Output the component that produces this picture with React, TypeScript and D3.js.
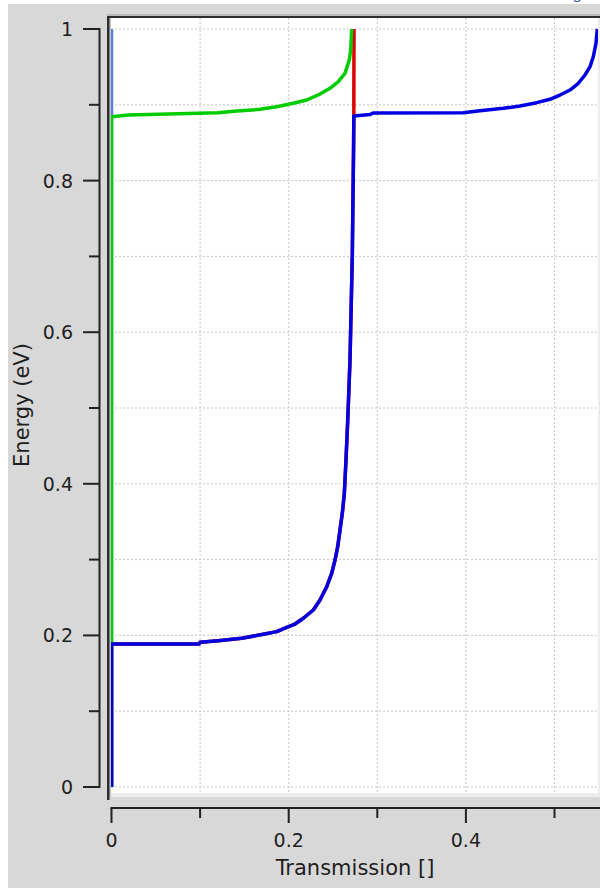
import React from "react";
import * as d3 from "d3";

// Axis ticks and labels
const energyTicks = [0, 0.2, 0.4, 0.6, 0.8, 1];
const energyTickLabels = ["0", "0.2", "0.4", "0.6", "0.8", "1"];
const energyMinorTicks = [0.1, 0.3, 0.5, 0.7, 0.9];
const transTicks = [0, 0.2, 0.4];
const transTickLabels = ["0", "0.2", "0.4"];
const transMinorTicks = [0.1, 0.3, 0.5];
const gridTrans = [0.1, 0.2, 0.3, 0.4, 0.5];
const gridEnergy = [0, 0.1, 0.2, 0.3, 0.4, 0.5, 0.6, 0.7, 0.8, 0.9, 1];

// Transmission curves as [transmission, energy (eV)] pairs
const mode3: [number, number][] = [
  [0, 0],
  [0, 1],
];

const mode1: [number, number][] = [
  [0, 0], [0, 0.1887], [0.099, 0.1887], [0.1, 0.191], [0.1205, 0.193],
  [0.147, 0.1962], [0.1713, 0.2015], [0.1865, 0.205], [0.1977, 0.2107],
  [0.2071, 0.215], [0.2165, 0.2226], [0.2278, 0.2335], [0.2353, 0.2467],
  [0.2429, 0.2642], [0.2485, 0.2819], [0.2523, 0.2995], [0.2553, 0.317],
  [0.2579, 0.339], [0.2605, 0.361], [0.2628, 0.3875], [0.2645, 0.4274],
  [0.2665, 0.4802], [0.2692, 0.5633], [0.2718, 0.7018], [0.2732, 0.8404],
  [0.2735, 0.8852], [0.2737, 1.0],
];

const mode2: [number, number][] = [
  [0, 0], [0, 0.8843], [0.019, 0.8865], [0.1205, 0.8896], [0.1413, 0.8918],
  [0.1676, 0.894], [0.1865, 0.8975], [0.2052, 0.902], [0.2203, 0.9063],
  [0.2353, 0.9142], [0.2466, 0.9218], [0.256, 0.9305], [0.2635, 0.9415],
  [0.2684, 0.9591], [0.27, 0.9723], [0.2711, 1.0],
];

const total: [number, number][] = [
  [0, 0], [0, 0.1887], [0.099, 0.1887], [0.1, 0.191], [0.1205, 0.193],
  [0.147, 0.1962], [0.1713, 0.2015], [0.1865, 0.205], [0.1977, 0.2107],
  [0.2071, 0.215], [0.2165, 0.2226], [0.2278, 0.2335], [0.2353, 0.2467],
  [0.2429, 0.2642], [0.2485, 0.2819], [0.2523, 0.2995], [0.2553, 0.317],
  [0.2579, 0.339], [0.2605, 0.361], [0.2628, 0.3875], [0.2645, 0.4274],
  [0.2665, 0.4802], [0.2692, 0.5633], [0.2718, 0.7018], [0.2732, 0.8404],
  [0.2735, 0.8852], [0.292, 0.8872], [0.2951, 0.8893], [0.397, 0.8896],
  [0.4159, 0.8922], [0.4422, 0.8954], [0.4611, 0.8984], [0.4799, 0.9028],
  [0.4949, 0.9073], [0.5062, 0.9129], [0.5175, 0.9195], [0.5269, 0.9284],
  [0.5344, 0.9393], [0.5401, 0.9503], [0.5438, 0.9635], [0.5468, 0.9811],
  [0.5483, 1.0],
];

const seriesList = [
  { data: mode3, color: "#5a7fe0" },
  { data: mode1, color: "#dd0000" },
  { data: mode2, color: "#00cc00" },
  { data: total, color: "#0000e0" },
];

const FONT = "'DejaVu Sans', sans-serif";

export default function App() {
  const x = d3.scaleLinear().domain([0, 0.55]).range([111.5, 111.5 + 886 * 0.55]);
  const y = d3.scaleLinear().domain([0, 1]).range([787, 29]);
  const line = d3
    .line<[number, number]>()
    .x((d) => x(d[0]))
    .y((d) => y(d[1]));

  const plot = { x0: 111, y0: 18, x1: 598, y1: 793 };
  const yAxisX = 99.5;
  const xAxisY = 808;

  return (
    <svg
      width={600}
      height={888}
      style={{ position: "absolute", left: 0, top: 0, background: "#fff" }}
    >
      <defs>
        <clipPath id="plotClip">
          <rect x={plot.x0} y={plot.y0} width={plot.x1 - plot.x0} height={plot.y1 - plot.y0} />
        </clipPath>
      </defs>
      <rect x={8} y={4} width={592} height={884} fill="#d8d8d8" />
      <text
        x={574}
        y={-2}
        fill="#2f4fa8"
        fontFamily="'Liberation Serif', serif"
        fontStyle="italic"
        fontSize={18}
      >
        g
      </text>

      {/* plot frame */}
      <rect x={107} y={14} width={493} height={2} fill="#bdbdbd" />
      <rect x={plot.x0} y={plot.y0} width={plot.x1 - plot.x0} height={plot.y1 - plot.y0} fill="#fff" />
      <rect x={plot.x0} y={plot.y1} width={plot.x1 - plot.x0} height={4} fill="#ececec" />
      <rect x={plot.x1} y={plot.y0} width={2} height={plot.y1 - plot.y0 + 4} fill="#ececec" />
      <rect x={109.5} y={plot.y0} width={1.5} height={plot.y1 - plot.y0 + 4} fill="#c4c4c4" />
      <rect x={107} y={16} width={493} height={2} fill="#2e2e2e" />
      <rect x={107} y={16} width={2.5} height={784} fill="#2e2e2e" />

      {/* dotted grid */}
      <g clipPath="url(#plotClip)" stroke="#c6c6c6" strokeWidth={1} strokeDasharray="2,2">
        {gridTrans.map((t) => (
          <line key={"gx" + t} x1={x(t)} x2={x(t)} y1={plot.y0} y2={plot.y1} />
        ))}
        {gridEnergy.map((e) => (
          <line key={"gy" + e} x1={plot.x0} x2={plot.x1} y1={y(e)} y2={y(e)} />
        ))}
      </g>

      {/* curves */}
      <g clipPath="url(#plotClip)" fill="none" strokeWidth={3.5} strokeLinejoin="round">
        {seriesList.map((s, i) => (
          <path key={i} d={line(s.data) || ""} stroke={s.color} />
        ))}
      </g>

      {/* energy axis */}
      <g stroke="#222" strokeWidth={2}>
        <line x1={yAxisX} x2={yAxisX} y1={y(1) - 1} y2={y(0) + 1} />
        {energyTicks.map((e) => (
          <line key={"ey" + e} x1={83} x2={yAxisX} y1={y(e)} y2={y(e)} />
        ))}
        {energyMinorTicks.map((e) => (
          <line key={"eym" + e} x1={89} x2={yAxisX} y1={y(e)} y2={y(e)} />
        ))}
      </g>
      {energyTicks.map((e, i) => (
        <text
          key={"el" + e}
          x={73}
          y={y(e) + 7}
          textAnchor="end"
          fontFamily={FONT}
          fontSize={19}
          fill="#1e1e1e"
        >
          {energyTickLabels[i]}
        </text>
      ))}
      <text
        transform={`translate(29, 405) rotate(-90)`}
        textAnchor="middle"
        fontFamily={FONT}
        fontSize={21}
        fill="#1e1e1e"
      >
        Energy (eV)
      </text>

      {/* transmission axis */}
      <g stroke="#222" strokeWidth={2}>
        <line x1={x(0) - 1} x2={600} y1={xAxisY} y2={xAxisY} />
        {transTicks.map((t) => (
          <line key={"tx" + t} x1={x(t)} x2={x(t)} y1={xAxisY} y2={823} />
        ))}
        {transMinorTicks.map((t) => (
          <line key={"txm" + t} x1={x(t)} x2={x(t)} y1={xAxisY} y2={818} />
        ))}
      </g>
      {transTicks.map((t, i) => (
        <text
          key={"tl" + t}
          x={x(t)}
          y={847}
          textAnchor="middle"
          fontFamily={FONT}
          fontSize={19}
          fill="#1e1e1e"
        >
          {transTickLabels[i]}
        </text>
      ))}
      <text x={355} y={875} textAnchor="middle" fontFamily={FONT} fontSize={21} fill="#1e1e1e">
        Transmission []
      </text>
    </svg>
  );
}
